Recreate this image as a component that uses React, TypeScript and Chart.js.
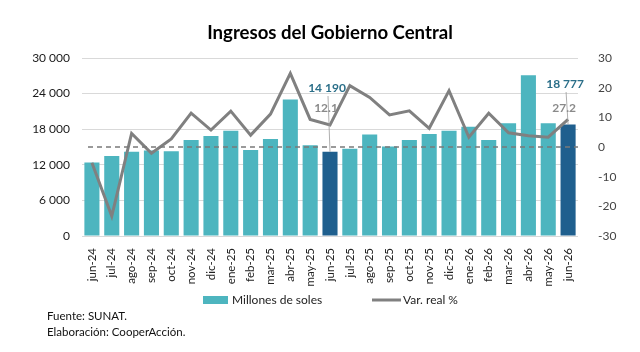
import { useEffect, useRef } from "react";
import Chart from "chart.js/auto";

// Meses del periodo
const meses = [
  "jun-24", "jul-24", "ago-24", "sep-24", "oct-24", "nov-24", "dic-24",
  "ene-25", "feb-25", "mar-25", "abr-25", "may-25", "jun-25", "jul-25",
  "ago-25", "sep-25", "oct-25", "nov-25", "dic-25", "ene-26", "feb-26",
  "mar-26", "abr-26", "may-26", "jun-26",
];

// Ingresos del Gobierno Central (millones de soles)
const ingresos = [
  12400, 13500, 14200, 14400, 14300, 16200, 16850, 17750, 14500, 16350,
  23000, 15300, 14190, 14700, 17100, 15100, 16200, 17200, 17750, 18400,
  16200, 19000, 27100, 19000, 18777,
];

// Variación real (%)
const varReal = [
  -5.3, -23.3, 4.6, -2.1, 2.7, 11.4, 5.7, 12.1, 4.0, 11.1, 24.8, 9.3, 7.4,
  20.7, 16.7, 10.8, 12.2, 6.3, 19.0, 3.3, 11.4, 4.8, 3.8, 3.3, 9.3,
];

// Meses destacados y su variación anual
const destacados = [12, 24];
const varAnual = ["12.1", "27.2"];

// Ticks de los ejes
const ticksIzq = [0, 6000, 12000, 18000, 24000, 30000];
const ticksDer = [-30, -20, -10, 0, 10, 20, 30];

// Textos de la leyenda y las notas
const leyenda = ["Millones de soles", "Var. real %"];
const notas = ["Fuente: SUNAT.", "Elaboración: CooperAcción."];

const TEAL = "#4db5bf";
const AZUL = "#1f5f8e";
const GRIS = "#808080";
const FONT = "Lato, 'Open Sans', sans-serif";

const fmtMiles = (v: number) =>
  String(Math.round(v)).replace(/\B(?=(\d{3})+(?!\d))/g, " ");

const anotaciones = {
  id: "anotaciones",
  afterDatasetsDraw(chart: any) {
    const { ctx, chartArea, scales } = chart;
    // Línea de referencia en 0 % (eje derecho)
    const y0 = scales.y1.getPixelForValue(0);
    ctx.save();
    ctx.strokeStyle = "#7a7a7a";
    ctx.lineWidth = 1.5;
    ctx.setLineDash([5, 4]);
    ctx.beginPath();
    ctx.moveTo(chartArea.left + 6, y0);
    ctx.lineTo(chartArea.right, y0);
    ctx.stroke();
    ctx.restore();

    // Etiquetas de los meses destacados
    const meta = chart.getDatasetMeta(0);
    const desplaz = [30, 26];
    destacados.forEach((idx, k) => {
      const bar = meta.data[idx];
      const x = bar.x;
      const yTop = bar.y;
      const yVal = chartArea.top + desplaz[k];
      const yVar = chartArea.top + 50;
      ctx.save();
      ctx.strokeStyle = "#9a9a9a";
      ctx.lineWidth = 0.8;
      ctx.beginPath();
      ctx.moveTo(x - 2, yVal + 8);
      ctx.lineTo(x, yTop);
      ctx.stroke();
      ctx.textAlign = "center";
      ctx.textBaseline = "middle";
      ctx.font = `bold 12px ${FONT}`;
      ctx.fillStyle = "#2b6f89";
      ctx.fillText(fmtMiles(ingresos[idx]), x - 3, yVal);
      ctx.fillStyle = "#8a8a8a";
      ctx.fillText(varAnual[k], x - 4, yVar);
      ctx.restore();
    });
  },
  afterDraw(chart: any) {
    const { ctx } = chart;
    ctx.save();
    // Leyenda
    const yl = 300;
    ctx.font = `12px ${FONT}`;
    ctx.textBaseline = "middle";
    ctx.textAlign = "left";
    ctx.fillStyle = TEAL;
    ctx.fillRect(203, yl - 4, 25, 8);
    ctx.fillStyle = "#222";
    ctx.fillText(leyenda[0], 232, yl);
    ctx.strokeStyle = GRIS;
    ctx.lineWidth = 3;
    ctx.beginPath();
    ctx.moveTo(372, yl);
    ctx.lineTo(401, yl);
    ctx.stroke();
    ctx.fillText(leyenda[1], 403, yl);

    // Notas al pie
    ctx.font = `11.5px ${FONT}`;
    ctx.fillStyle = "#111";
    ctx.fillText(notas[0], 47, 316);
    ctx.fillText(notas[1], 47, 332);
    ctx.restore();
  },
};

export default function App() {
  const ref = useRef<HTMLCanvasElement | null>(null);

  useEffect(() => {
    if (!ref.current) return;
    const colores = ingresos.map((_, i) => (destacados.includes(i) ? AZUL : TEAL));
    const chart = new Chart(ref.current, {
      data: {
        labels: meses,
        datasets: [
          {
            type: "bar",
            label: leyenda[0],
            data: ingresos,
            backgroundColor: colores,
            borderWidth: 0,
            yAxisID: "y",
            categoryPercentage: 0.76,
            barPercentage: 1,
            order: 2,
          },
          {
            type: "line",
            label: leyenda[1],
            data: varReal,
            borderColor: GRIS,
            backgroundColor: GRIS,
            borderWidth: 3,
            pointRadius: 0,
            tension: 0,
            yAxisID: "y1",
            order: 1,
          },
        ],
      } as any,
      options: {
        responsive: false,
        animation: false,
        layout: { padding: { bottom: 64, left: 20, right: 0 } },
        plugins: {
          title: {
            display: true,
            text: "Ingresos del Gobierno Central",
            color: "#000",
            font: { family: FONT, size: 18.6, weight: "bold" },
            padding: { top: 21.5, bottom: 14.2 },
          },
          legend: { display: false },
          tooltip: { enabled: false },
        },
        scales: {
          x: {
            grid: { display: false },
            border: { display: false },
            afterFit: (s: any) => {
              s.height = 52;
            },
            ticks: {
              autoSkip: false,
              maxRotation: 90,
              minRotation: 90,
              color: "#222",
              padding: 4,
              font: { family: FONT, size: 11.5 },
            },
          },
          y: {
            position: "left",
            min: ticksIzq[0],
            max: ticksIzq[ticksIzq.length - 1],
            afterBuildTicks: (s: any) => {
              s.ticks = ticksIzq.map((v) => ({ value: v }));
            },
            afterFit: (s: any) => {
              s.width = 62;
            },
            grid: { color: "#d9d9d9", drawTicks: false, lineWidth: 1 },
            border: { display: false },
            ticks: {
              padding: 12,
              color: "#1a1a1a",
              font: { family: FONT, size: 12 },
              callback: (v: any) => fmtMiles(Number(v)),
            },
          },
          y1: {
            position: "right",
            min: ticksDer[0],
            max: ticksDer[ticksDer.length - 1],
            afterBuildTicks: (s: any) => {
              s.ticks = ticksDer.map((v) => ({ value: v }));
            },
            afterFit: (s: any) => {
              s.width = 62;
            },
            grid: { display: false },
            border: { display: false },
            ticks: {
              padding: 12,
              color: "#444",
              font: { family: FONT, size: 12 },
            },
          },
        },
      } as any,
      plugins: [anotaciones],
    });
    return () => chart.destroy();
  }, []);

  return (
    <div style={{ position: "fixed", left: 0, top: 0, width: 640, height: 352, background: "#fff" }}>
      <canvas ref={ref} width={640} height={352} style={{ display: "block" }} />
    </div>
  );
}
